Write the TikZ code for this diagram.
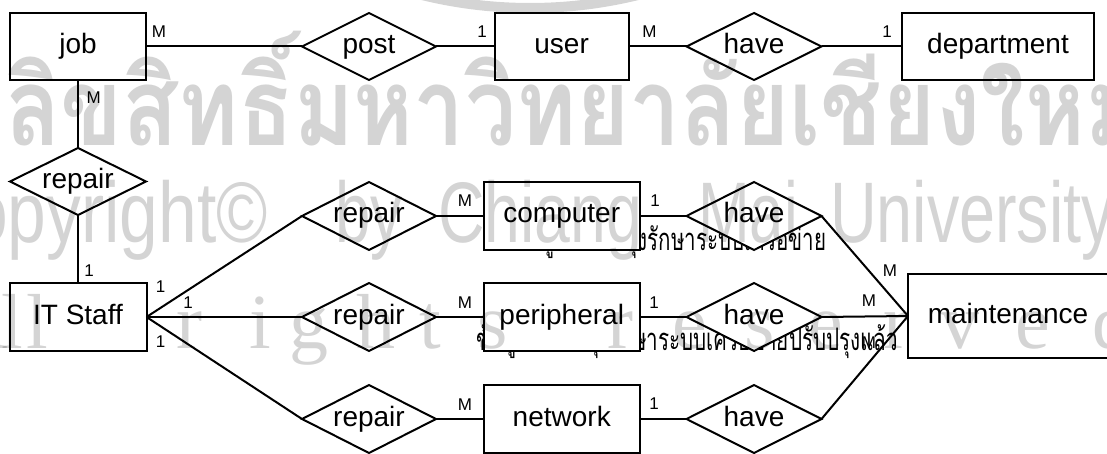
\documentclass[tikz,border=0pt]{standalone}
\usepackage{fontspec}
\usepackage{graphicx}
\setmainfont{Liberation Sans}
\newfontfamily\thaifont[Script=Thai]{Loma}
\newfontfamily\serifwm{Liberation Serif}
\usetikzlibrary{shapes.geometric}

\begin{document}
\begin{tikzpicture}[x=1pt, y=-1pt,
  every node/.style={inner sep=0pt, outer sep=0pt},
  maintext/.style={font=\fontsize{28}{30}\selectfont, text height=20pt, text depth=6pt},
  entity/.style={maintext, rectangle, draw, line width=2pt, fill=white},
  relation/.style={maintext, diamond, aspect=2, draw, line width=2pt, fill=white},
  card/.style={font=\fontsize{17}{18}\selectfont},
  link/.style={line width=2pt},
  note/.style={anchor=base west, font=\thaifont\fontsize{31}{33}\selectfont},
  wmark/.style={text=black, text opacity=0.17},
  wmword/.style={wmark, anchor=base west, font=\fontsize{86}{90}\selectfont},
]
\path[use as bounding box, clip] (0,0) rectangle (1107,454);

% captions lying under the diagram
\node[note] (capA) at (515,251) {\resizebox{311pt}{\height}{ข้อมูลการบำรุงรักษาระบบเครือข่าย}};
\node[note] (capB) at (476,350) {\resizebox{422pt}{\height}{ข้อมูลการบำรุงรักษาระบบเครือข่ายปรับปรุงแล้ว}};

% top row
\node[entity, minimum width=136pt, minimum height=67pt] (job) at (78,46.5) {job};
\node[relation, minimum width=134pt, minimum height=67pt] (post) at (369,46.5) {post};
\node[entity, minimum width=134pt, minimum height=67pt] (user) at (561.6,46.5) {user};
\node[relation, minimum width=135pt, minimum height=67pt] (haveU) at (754,46.5) {have};
\node[entity, minimum width=192pt, minimum height=67pt] (dept) at (998,46.5) {department};

% left column
\node[relation, minimum width=136pt, minimum height=67pt] (repJ) at (78,181.5) {repair};
\node[entity, minimum width=137pt, minimum height=68pt] (staff) at (78,317) {IT Staff};

% repair relations and devices
\node[relation, minimum width=134pt, minimum height=68pt] (repC) at (369,216) {repair};
\node[relation, minimum width=134pt, minimum height=68pt] (repP) at (369,317) {repair};
\node[relation, minimum width=134pt, minimum height=68pt] (repN) at (369,419) {repair};
\node[entity, minimum width=155.5pt, minimum height=68pt] (comp) at (561.75,216) {computer};
\node[entity, minimum width=155.5pt, minimum height=68pt] (peri) at (561.75,317) {peripheral};
\node[entity, minimum width=155.5pt, minimum height=68pt] (net) at (561.75,419) {network};
\node[relation, minimum width=135pt, minimum height=68pt] (haveC) at (754,216) {have};
\node[relation, minimum width=135pt, minimum height=68pt] (haveP) at (754,317) {have};
\node[relation, minimum width=135pt, minimum height=68pt] (haveN) at (754,419) {have};
\node[entity, minimum width=200pt, minimum height=84pt] (maint) at (1008,316) {maintenance};

% connectors
\draw[link] (job.east) -- (post.west);
\draw[link] (post.east) -- (user.west);
\draw[link] (user.east) -- (haveU.west);
\draw[link] (haveU.east) -- (dept.west);
\draw[link] (job.south) -- (repJ.north);
\draw[link] (repJ.south) -- (staff.north);
\draw[link] (staff.east) -- (repC.west);
\draw[link] (staff.east) -- (repP.west);
\draw[link] (staff.east) -- (repN.west);
\draw[link] (repC.east) -- (comp.west);
\draw[link] (repP.east) -- (peri.west);
\draw[link] (repN.east) -- (net.west);
\draw[link] (comp.east) -- (haveC.west);
\draw[link] (peri.east) -- (haveP.west);
\draw[link] (net.east) -- (haveN.west);
\draw[link] (haveC.east) -- (maint.west);
\draw[link] (haveP.east) -- (maint.west);
\draw[link] (haveN.east) -- (maint.west);

% cardinalities
\node[card] (c1) at (159,32) {M};
\node[card] (c2) at (482,32) {1};
\node[card] (c3) at (649.5,32) {M};
\node[card] (c4) at (887,32) {1};
\node[card] (c5) at (93.7,98) {M};
\node[card] (c6) at (89,271) {1};
\node[card] (c7) at (160.7,287) {1};
\node[card] (c8) at (188,302.5) {1};
\node[card] (c9) at (160.7,342) {1};
\node[card] (c10) at (465,201) {M};
\node[card] (c11) at (465,303) {M};
\node[card] (c12) at (465,405) {M};
\node[card] (c13) at (655,201) {1};
\node[card] (c14) at (654,302.5) {1};
\node[card] (c15) at (654,404) {1};
\node[card] (c16) at (890,270.5) {M};
\node[card] (c17) at (869,300.5) {M};
\node[card] (c18) at (869,343) {M};

% copyright watermark laid over everything
\draw[line width=10pt, draw opacity=0.17] (530,-444) circle[radius=452pt];
\node[wmark, anchor=base west, font=\thaifont\bfseries\fontsize{108}{120}\selectfont] (wmA) at (5,146)
  {\resizebox{1140pt}{\height}{ลิขสิทธิ์มหาวิทยาลัยเชียงใหม่}};
\node[wmword] (wmB1) at (-81,243) {\resizebox{349pt}{\height}{Copyright©}};
\node[wmword] (wmB2) at (335,243) {\resizebox{67pt}{\height}{by}};
\node[wmword] (wmB3) at (438,243) {\resizebox{204pt}{\height}{Chiang}};
\node[wmword] (wmB4) at (698,243) {\resizebox{100pt}{\height}{Mai}};
\node[wmword] (wmB5) at (830,243) {\resizebox{284pt}{\height}{University}};
\foreach \ch/\xx [count=\k] in {A/-20, l/12, l/37, r/189, i/260, g/309, h/376, t/430, s/493,
    r/620, e/690, s/760, e/826, r/896, v/960, e/1033, d/1112}
  \node[wmark, anchor=base, font=\serifwm\fontsize{78}{80}\selectfont] (wl\k) at (\xx,348) {\ch};
\end{tikzpicture}
\end{document}
